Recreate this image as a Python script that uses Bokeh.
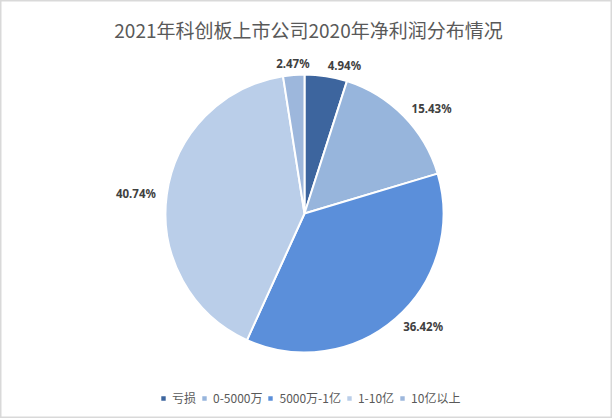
import math
from bokeh.plotting import figure
from bokeh.models import ColumnDataSource, Range1d, Legend, LegendItem, Label
from bokeh.core.properties import value
from bokeh.embed import file_html
from bokeh.resources import INLINE

# ---- data ----
categories = ["亏损", "0-5000万", "5000万-1亿", "1-10亿", "10亿以上"]
shares = [4.94, 15.43, 36.42, 40.74, 2.47]
colors = ["#3D659E", "#97B5DC", "#5B8FDA", "#BACEE9", "#9DB7DC"]
title_text = "2021年科创板上市公司2020年净利润分布情况"

# ---- layout constants ----
W, H = 612, 418
cx, cy, R = 304, 205, 139
R_LAB = 150

total = sum(shares)
starts, ends, lx, ly, aligns = [], [], [], [], []
cum = 0.0
for v in shares:
    a0 = math.pi / 2 - 2 * math.pi * cum / total
    a1 = math.pi / 2 - 2 * math.pi * (cum + v) / total
    starts.append(a0)
    ends.append(a1)
    mid = (a0 + a1) / 2
    c = math.cos(mid)
    lx.append(cx + R_LAB * c)
    ly.append(cy + R_LAB * math.sin(mid))
    aligns.append("left" if c > 0.1 else ("right" if c < -0.1 else "center"))
    cum += v

src = ColumnDataSource(dict(
    cat=categories, val=shares, color=colors,
    start=starts, end=ends,
    x=[cx] * len(shares), y=[cy] * len(shares),
    lx=lx, ly=ly, align=aligns, lab=[f"{v:.2f}%" for v in shares],
))

p = figure(width=W, height=H, output_backend="svg", toolbar_location=None,
           x_range=Range1d(0, W), y_range=Range1d(0, H),
           x_axis_type=None, y_axis_type=None, min_border=0)
p.grid.visible = False
p.background_fill_color = "white"
p.border_fill_color = "white"
p.outline_line_color = "#D9D9D9"
p.outline_line_width = 2

r = p.wedge(x="x", y="y", radius=R, start_angle="start", end_angle="end",
            direction="clock", fill_color="color", line_color="white",
            line_width=2, source=src)

p.text(x="lx", y="ly", text="lab", source=src, text_align="align",
       text_baseline="middle", text_font=value("Noto Sans"),
       text_font_size="11.5px", text_font_style="bold", text_color="#404040")

title = Label(x=W / 2 + 2, y=H - 29, x_units="screen", y_units="screen",
              text=title_text, text_align="center", text_baseline="middle",
              text_font="Noto Sans CJK SC", text_font_size="19px",
              text_color="#595959")
p.add_layout(title)

legend = Legend(items=[LegendItem(label=c, renderers=[r], index=i)
                       for i, c in enumerate(categories)],
                orientation="horizontal", location=(159, 12),
                glyph_width=8, glyph_height=8, label_standoff=5, spacing=4,
                label_height=14, padding=0, margin=0,
                label_text_font="Noto Sans CJK SC", label_text_font_size="12px",
                label_text_color="#595959", border_line_alpha=0,
                background_fill_alpha=0)
p.add_layout(legend, "center")

open("out.html", "w").write(file_html(p, INLINE))
